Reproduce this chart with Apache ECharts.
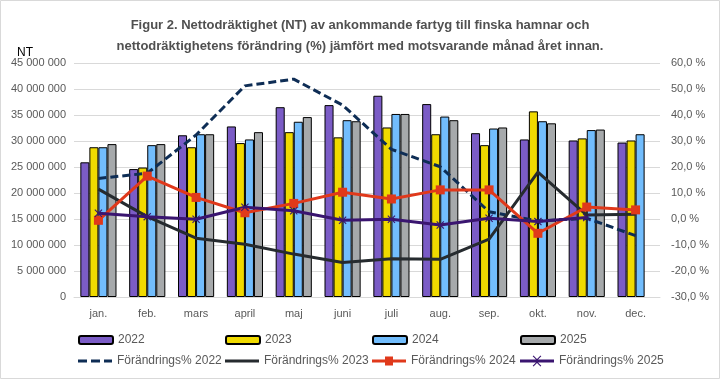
<!DOCTYPE html>
<html>
<head>
<meta charset="utf-8">
<script src="https://cdn.jsdelivr.net/npm/echarts@6/dist/echarts.min.js"></script>
<style>html,body{margin:0;padding:0;background:#fff}#c{width:720px;height:379px}</style>
</head>
<body>
<div id="c"></div>
<script>
var categories = ['jan.','feb.','mars','april','maj','juni','juli','aug.','sep.','okt.','nov.','dec.'];
var nt2022 = [25.9,24.6,31.1,32.8,36.5,36.9,38.7,37.1,31.5,30.3,30.1,29.7];
var nt2023 = [28.8,24.9,28.8,29.6,31.7,30.7,32.6,31.3,29.2,35.7,30.5,30.1];
var nt2024 = [28.8,29.2,31.3,30.3,33.7,34.0,35.2,34.7,32.4,33.8,32.1,31.3];
var nt2025 = [29.4,29.4,31.3,31.7,34.6,33.8,35.2,34.0,32.6,33.4,32.2,null];
var pct2022 = [15.6,17.6,32.3,51.2,53.8,43.8,26.8,20.1,2.8,-0.8,0.3,-6.4];
var pct2023 = [11.5,0.9,-7.4,-9.7,-13.5,-16.7,-15.3,-15.5,-7.7,18.0,1.5,1.8];
var pct2024 = [-0.5,16.5,8.3,2.4,6.0,10.3,7.7,11.2,11.2,-5.5,4.6,3.5];
var pct2025 = [2.2,0.9,-0.1,4.5,3.2,-0.5,-0.1,-2.3,0.3,-1.0,0.6,null];
var leftTicks = {min:0, max:45000000, interval:5000000};
var rightTicks = {min:-30, max:60, interval:10};

var FONT = '"Liberation Sans", sans-serif';
var TXT = '#595959';
function mil(a){return a.map(function(v){return v==null?null:Math.round(v*1000000);});}
function fmtNT(v){return String(v).replace(/\B(?=(\d{3})+(?!\d))/g,' ');}

var chart = echarts.init(document.getElementById('c'), null, {renderer:'canvas'});
var xMark = 'path://M0,1L1,0L5,4L9,0L10,1L6,5L10,9L9,10L5,6L1,10L0,9L4,5Z';
function barS(name, data, color){
  return {name:name, type:'bar', yAxisIndex:0, data:mil(data), barGap:'0%', barCategoryGap:'26%',
    itemStyle:{color:color, borderColor:'#000', borderWidth:1}};
}
var legPos = [[78,334],[225,334],[372,334],[520,334],[78,355],[225,355],[372,355],[520,355]];
var names = ['2022','2023','2024','2025','Förändrings% 2022','Förändrings% 2023','Förändrings% 2024','Förändrings% 2025'];
var icons = [null,null,null,null,
  'path://M0,0h9v3h-9z M13,0h9v3h-9z M26,0h8v3h-8z',
  'path://M0,0h34v3h-34z',
  'path://M0,3h34v3h-34z M13,0h8v9h-8z',
  'path://M0,4h34v3h-34z M13.5,0L17,3.5L20.5,0L21.3,0.8L17.8,4.3L17.8,6.7L21.3,10.2L20.5,11L17,7.5L13.5,11L12.7,10.2L16.2,6.7L16.2,4.3L12.7,0.8Z'];
var iconH = [8,8,8,8,3,3,9,11];
var legends = names.map(function(n,i){
  var d = icons[i] ? {name:n, icon:icons[i]} : n;
  return {data:[d], left:legPos[i][0], top:legPos[i][1], itemWidth:34, itemHeight:iconH[i], itemGap:5,
    padding:0, textStyle:{color:TXT, fontSize:12, fontFamily:FONT}};
});
chart.setOption({
  animation:false,
  textStyle:{fontFamily:FONT},
  title:{text:'Figur 2. Nettodräktighet (NT) av ankommande fartyg till finska hamnar och\nnettodräktighetens förändring (%) jämfört med motsvarande månad året innan.',
    left:'center', top:10, textStyle:{fontSize:13, fontWeight:'bold', color:'#505050', fontFamily:FONT, lineHeight:21}},
  legend:legends,
  graphic:[{type:'rect', shape:{x:0.5,y:0.5,width:719,height:378}, style:{fill:'none', stroke:'#d9d9d9', lineWidth:1}, silent:true},
    {type:'text', left:17, top:47, style:{text:'NT', fontSize:12, fill:'#000', fontFamily:FONT}}],
  grid:{left:74, right:60, top:63, bottom:82, containLabel:false},
  xAxis:{type:'category', data:categories, axisTick:{show:false},
    axisLine:{lineStyle:{color:'#d9d9d9'}}, axisLabel:{color:TXT, fontSize:11, margin:11, fontFamily:FONT}},
  yAxis:[
    {type:'value', min:leftTicks.min, max:leftTicks.max, interval:leftTicks.interval,
      axisLabel:{color:TXT, fontSize:11, formatter:fmtNT, margin:8, fontFamily:FONT},
      splitLine:{lineStyle:{color:'#d9d9d9'}}, axisLine:{show:false}, axisTick:{show:false}},
    {type:'value', min:rightTicks.min, max:rightTicks.max, interval:rightTicks.interval, position:'right',
      axisLabel:{color:TXT, fontSize:11, margin:11, fontFamily:FONT, formatter:function(v){return v.toFixed(1).replace('.',',')+' %';}},
      splitLine:{show:false}, axisLine:{show:false}, axisTick:{show:false}}
  ],
  series:[
    barS('2022', nt2022, '#7B5CC6'),
    barS('2023', nt2023, '#F0DA00'),
    barS('2024', nt2024, '#72BDFD'),
    barS('2025', nt2025, '#A6A9AB'),
    {name:'Förändrings% 2022', type:'line', yAxisIndex:1, data:pct2022, showSymbol:false, symbol:'none',
      lineStyle:{color:'#0E2D55', width:3, type:[8,4]}, itemStyle:{color:'#0E2D55'}, z:5},
    {name:'Förändrings% 2023', type:'line', yAxisIndex:1, data:pct2023, symbol:'none',
      lineStyle:{color:'#262B2F', width:3}, itemStyle:{color:'#262B2F'}, z:5},
    {name:'Förändrings% 2024', type:'line', yAxisIndex:1, data:pct2024, symbol:'rect', symbolSize:9,
      lineStyle:{color:'#E0391B', width:3}, itemStyle:{color:'#E0391B'}, z:6},
    {name:'Förändrings% 2025', type:'line', yAxisIndex:1, data:pct2025, symbol:xMark, symbolSize:8,
      lineStyle:{color:'#3A1570', width:3}, itemStyle:{color:'#3A1570'}, z:6}
  ]
});
</script>
</body>
</html>
